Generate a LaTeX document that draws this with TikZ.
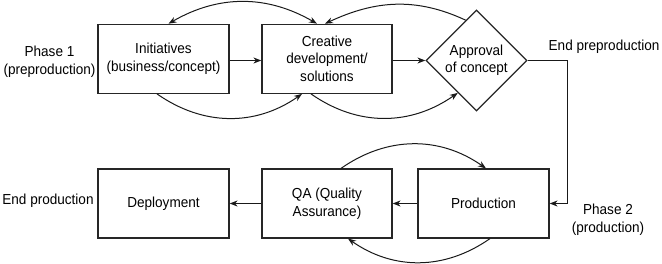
\documentclass[tikz,border=0pt]{standalone}
\usepackage{fontspec}
\setmainfont{Liberation Sans}[FakeStretch=0.935]
\usetikzlibrary{shapes.geometric,arrows.meta}
\begin{document}
\begin{tikzpicture}[x=1pt,y=1pt,
  every node/.style={font=\fontsize{14.5}{17.5}\selectfont, align=center},
  box/.style={draw=black!85, line width=1.2pt, minimum width=131pt, minimum height=69pt, inner sep=0pt},
  dec/.style={draw=black!85, line width=1.2pt, shape=diamond, aspect=1, minimum width=101pt, minimum height=101pt, inner sep=0pt},
  lbl/.style={inner sep=0pt},
  conn/.style={draw=black!90, line width=1pt, -{Stealth[length=8pt,width=6pt]}},
  conn2/.style={draw=black!90, line width=1pt, {Stealth[length=8pt,width=6pt]}-{Stealth[length=8pt,width=6pt]}}
]
\useasboundingbox (0,0) rectangle (662,263);
% nodes
\node[box] (init) at (163.5,204.2) {Initiatives\\(business/concept)};
\node[box, minimum width=130pt] (crea) at (327,204.2) {Creative\\development/\\solutions};
\node[dec] (dia) at (476.5,202.5) {Approval\\of concept};
\node[box] (prod) at (483.5,59.5) {Production};
\node[box, minimum width=130pt] (qa) at (327,59.5) {QA (Quality\\Assurance)};
\node[box] (dep) at (163.5,59.5) {Deployment};
% labels
\node[lbl] (ph1) at (49.5,201.5) {Phase 1\\(preproduction)};
\node[lbl, anchor=west] (endpre) at (548.5,216) {End preproduction};
\node[lbl] (endprod) at (48,62) {End production};
\node[lbl] (ph2) at (608,43.5) {Phase 2\\(production)};
\coordinate (corner) at (567,0);
% straight connectors
\draw[conn] (init.east |- dia.west) -- (crea.west |- dia.west);
\draw[conn] (crea.east |- dia.west) -- (dia.west);
\draw[conn] (dia.east) -- (dia.east -| corner) -- (prod.east -| corner) -- (prod.east);
\draw[conn] (prod.west) -- (qa.east);
\draw[conn] (qa.west) -- (dep.east);
% arcs
\draw[conn2] ([xshift=5pt]init.north) to[out=30,in=150] ([xshift=-10pt]crea.north);
\draw[conn] ([xshift=-6.5pt]init.south) to[out=-35,in=-145] ([xshift=-25pt]crea.south);
\draw[conn] (dia.105) to[out=155,in=25] ([xshift=-2pt]crea.north);
\draw[conn] ([xshift=-16pt]crea.south) to[out=-35,in=-145] (dia.240);
\draw[conn] ([xshift=14pt]qa.north) to[out=35,in=145] ([xshift=2.5pt]prod.north);
\draw[conn] ([xshift=6.5pt]prod.south) to[out=-145,in=-35] ([xshift=21pt]qa.south);
\end{tikzpicture}
\end{document}
